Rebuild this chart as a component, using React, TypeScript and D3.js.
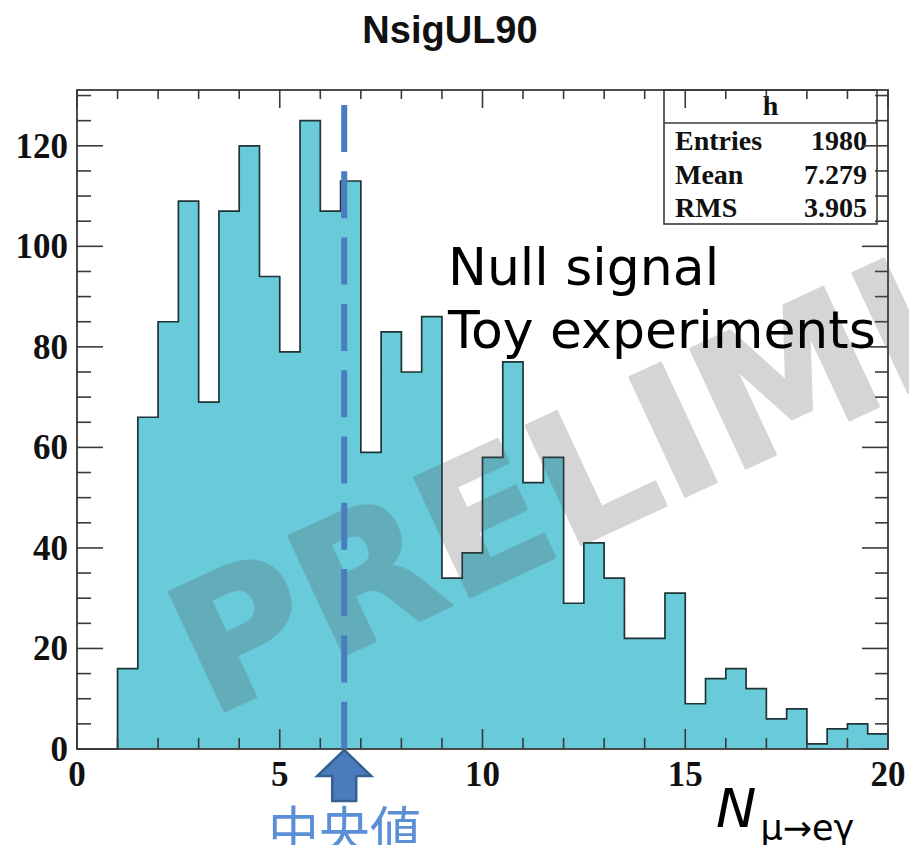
import React from "react";
import * as d3 from "d3";

// Histogram of the 90% C.L. upper limit on the signal yield from null-signal toys
const binStart = 0;
const binWidth = 0.5;
const counts = [
  0, 0, 16, 66, 85, 109, 69, 107, 120, 94,
  79, 125, 107, 113, 59, 83, 75, 86, 34, 39,
  58, 77, 53, 58, 29, 41, 34, 22, 22, 31,
  9, 14, 16, 12, 6, 8, 1, 4, 5, 3,
];

const xMajorTicks = [0, 5, 10, 15, 20];
const xMinorTicks = d3.range(0, 21, 1);
const yMajorTicks = [0, 20, 40, 60, 80, 100, 120];
const yMinorTicks = d3.range(0, 131, 5);

const statLabels = ["Entries", "Mean", "RMS"];
const statValues = ["1980", "7.279", "3.905"];
const histName = "h";
const title = "NsigUL90";
const medianValue = 6.59;
const noteLines = ["Null signal", "Toy experiments"];
const medianLabel = "中央値";
const watermark = "PRELIMINARY";

const W = 909;
const H = 845;
const frame = { left: 77, right: 888, top: 90, bottom: 749 };

const x = d3.scaleLinear().domain([0, 20]).range([frame.left, frame.right]);
const y = d3.scaleLinear().domain([0, 131.1]).range([frame.bottom, frame.top]);

const FILL = "#69cad9";
const AXIS = "#3a3a3a";
const BLUE = "#4a7cc0";

export default function App() {
  const pts: [number, number][] = counts.map((c, i) => [binStart + i * binWidth, c]);
  pts.push([binStart + counts.length * binWidth, counts[counts.length - 1]]);

  const area = d3
    .area<[number, number]>()
    .curve(d3.curveStepAfter)
    .x((d) => x(d[0]))
    .y0(y(0))
    .y1((d) => y(d[1]));
  const line = d3
    .line<[number, number]>()
    .curve(d3.curveStepAfter)
    .x((d) => x(d[0]))
    .y((d) => y(d[1]));

  const serif = "'Liberation Serif', 'Times New Roman', serif";
  const mx = x(medianValue);

  // arrow pointing at the median from below the axis
  const arrowTip = frame.bottom + 1;
  const arrow = [
    [mx, arrowTip],
    [mx + 27, arrowTip + 26],
    [mx + 12, arrowTip + 26],
    [mx + 12, arrowTip + 51],
    [mx - 12, arrowTip + 51],
    [mx - 12, arrowTip + 26],
    [mx - 27, arrowTip + 26],
  ]
    .map((p) => p.join(","))
    .join(" ");

  const box = { x0: 664, x1: 877, y0: frame.top, yHead: 123, y1: 224 };

  return (
    <svg
      width={W}
      height={H}
      style={{ position: "absolute", left: 0, top: 0, background: "#fff" }}
    >
      <rect x={0} y={0} width={W} height={H} fill="#fff" />

      {/* title */}
      <text
        x={450}
        y={43}
        textAnchor="middle"
        fontFamily="'Liberation Sans', Arial, sans-serif"
        fontWeight="bold"
        fontSize={38}
        fill="#111"
      >
        {title}
      </text>

      {/* histogram */}
      <path d={area(pts) || ""} fill={FILL} />
      <path d={line(pts) || ""} fill="none" stroke="#1f3436" strokeWidth={1.7} />

      {/* stats box */}
      <rect
        x={box.x0}
        y={box.y0}
        width={box.x1 - box.x0}
        height={box.y1 - box.y0}
        fill="#fff"
        stroke={AXIS}
        strokeWidth={1.6}
      />
      <line x1={box.x0} x2={box.x1} y1={box.yHead} y2={box.yHead} stroke={AXIS} strokeWidth={1.6} />
      <text
        x={(box.x0 + box.x1) / 2}
        y={115}
        textAnchor="middle"
        fontFamily={serif}
        fontWeight="bold"
        fontSize={28}
        fill="#111"
      >
        {histName}
      </text>
      {statLabels.map((lab, i) => (
        <g key={lab}>
          <text x={675} y={150 + i * 33.5} fontFamily={serif} fontWeight="bold" fontSize={28} fill="#111">
            {lab}
          </text>
          <text
            x={867}
            y={150 + i * 33.5}
            textAnchor="end"
            fontFamily={serif}
            fontWeight="bold"
            fontSize={28}
            fill="#111"
          >
            {statValues[i]}
          </text>
        </g>
      ))}

      {/* frame */}
      <rect
        x={frame.left}
        y={frame.top}
        width={frame.right - frame.left}
        height={frame.bottom - frame.top}
        fill="none"
        stroke={AXIS}
        strokeWidth={1.8}
      />

      {/* x ticks, bottom and top */}
      {xMinorTicks.map((t) => {
        const major = xMajorTicks.includes(t);
        return (
          <g key={"xt" + t} stroke={AXIS} strokeWidth={1.6}>
            <line x1={x(t)} x2={x(t)} y1={frame.bottom} y2={frame.bottom - (major ? 20 : 11)} />
            <line x1={x(t)} x2={x(t)} y1={frame.top} y2={frame.top + (major ? 18 : 9)} />
          </g>
        );
      })}
      {/* y ticks, left and right */}
      {yMinorTicks.map((t) => {
        const major = yMajorTicks.includes(t);
        return (
          <g key={"yt" + t} stroke={AXIS} strokeWidth={1.6}>
            <line x1={frame.left} x2={frame.left + (major ? 26 : 14)} y1={y(t)} y2={y(t)} />
            <line x1={frame.right} x2={frame.right - (major ? 26 : 13)} y1={y(t)} y2={y(t)} />
          </g>
        );
      })}

      {/* tick labels */}
      {xMajorTicks.map((t) => (
        <text
          key={"xl" + t}
          x={x(t)}
          y={786}
          textAnchor="middle"
          fontFamily={serif}
          fontWeight="bold"
          fontSize={35}
          fill="#111"
        >
          {t}
        </text>
      ))}
      {yMajorTicks.map((t) => (
        <text
          key={"yl" + t}
          x={68}
          y={y(t) + 12}
          textAnchor="end"
          fontFamily={serif}
          fontWeight="bold"
          fontSize={35}
          fill="#111"
        >
          {t}
        </text>
      ))}

      {/* watermark */}
      <g opacity={0.23}>
        <text
          transform={`translate(210,718) rotate(-25)`}
          fontFamily="'DejaVu Sans', sans-serif"
          fontWeight="bold"
          fontSize={180}
          fill="#4f4f52"
          stroke="#4f4f52"
          strokeWidth={3}
          strokeLinejoin="round"
        >
          {watermark}
        </text>
      </g>

      {/* median marker */}
      <line
        x1={mx}
        x2={mx}
        y1={105}
        y2={frame.bottom}
        stroke={BLUE}
        strokeWidth={6}
        strokeDasharray="47 19.3"
      />
      <polygon points={arrow} fill="#4b7bbd" stroke="#35608f" strokeWidth={2.5} />
      <text
        x={268}
        y={849}
        fontFamily="'Noto Sans CJK JP', sans-serif"
        fontSize={51}
        fill="#5b8fd6"
      >
        {medianLabel}
      </text>

      {/* annotation */}
      {noteLines.map((s, i) => (
        <text
          key={s}
          x={448}
          y={285 + i * 63}
          fontFamily="'DejaVu Sans', Verdana, sans-serif"
          fontSize={52}
          fill="#000"
        >
          {s}
        </text>
      ))}

      {/* axis title */}
      <text x={716} y={827} fontFamily="'DejaVu Sans', sans-serif" fill="#000">
        <tspan fontStyle="italic" fontSize={54}>
          N
        </tspan>
        <tspan fontSize={35} dx={4} dy={13}>
          μ→eγ
        </tspan>
      </text>
    </svg>
  );
}
